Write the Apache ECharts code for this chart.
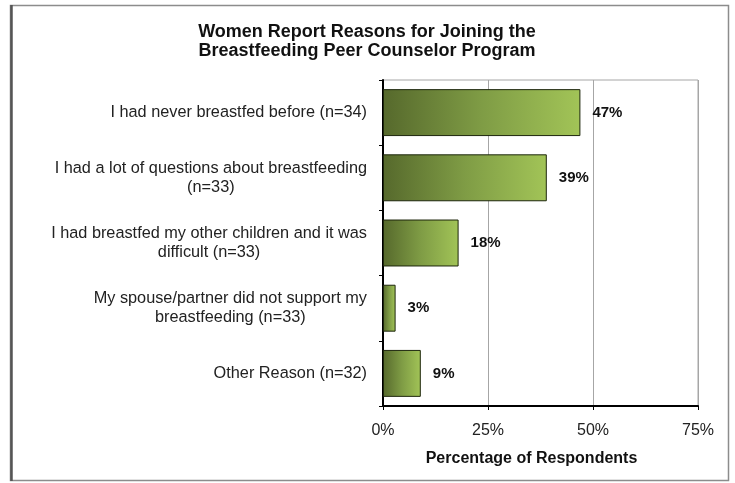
<!DOCTYPE html>
<html>
<head>
<meta charset="utf-8">
<script src="https://cdn.jsdelivr.net/npm/echarts@6/dist/echarts.min.js"></script>
<style>
  html, body { margin: 0; padding: 0; background: #fff; }
  #chart { width: 735px; height: 483px; }
</style>
</head>
<body>
<div id="chart"></div>
<script>
// Reasons given for joining the peer counselor program
const reasons = [
  'I had never breastfed before (n=34)',
  'I had a lot of questions about breastfeeding\n(n=33)',
  'I had breastfed my other children and it was\ndifficult (n=33)',
  'My spouse/partner did not support my\nbreastfeeding (n=33)',
  'Other Reason (n=32)'
];
// Share of respondents (%)
const percentages = [47, 39, 18, 3, 9];
const xTicks = [0, 25, 50, 75];

const FONT = '"Liberation Sans", Arial, sans-serif';

const chart = echarts.init(document.getElementById('chart'), null, { renderer: 'canvas' });

chart.setOption({
  animation: false,
  backgroundColor: '#ffffff',
  title: {
    text: 'Women Report Reasons for Joining the\nBreastfeeding Peer Counselor Program',
    left: 362,
    textAlign: 'center',
    top: 18,
    textStyle: {
      fontFamily: FONT,
      fontSize: 18,
      fontWeight: 'bold',
      color: '#111',
      lineHeight: 19
    }
  },
  graphic: [
    {
      type: 'rect',
      shape: { x: 10.5, y: 5.5, width: 718, height: 475 },
      style: { fill: 'none', stroke: '#8c8c8c', lineWidth: 1.5 },
      silent: true
    },
    {
      type: 'line',
      shape: { x1: 11.5, y1: 5, x2: 11.5, y2: 481 },
      style: { stroke: '#555', lineWidth: 2.5 },
      silent: true
    }
  ],
  grid: {
    left: 383,
    right: 37,
    top: 80,
    bottom: 77,
    show: true,
    borderColor: '#a6a6a6',
    borderWidth: 1
  },
  xAxis: {
    type: 'value',
    min: xTicks[0],
    max: xTicks[xTicks.length - 1],
    interval: 25,
    name: 'Percentage of Respondents',
    nameLocation: 'middle',
    nameGap: 45,
    nameTextStyle: {
      fontFamily: FONT,
      fontSize: 16,
      fontWeight: 'bold',
      color: '#111',
      padding: [0, 18, 0, 0]
    },
    axisLine: { show: true, lineStyle: { color: '#000', width: 2 } },
    axisTick: { show: true, length: 4, lineStyle: { color: '#000', width: 1 } },
    axisLabel: {
      fontFamily: FONT,
      fontSize: 16,
      color: '#222',
      margin: 17,
      formatter: v => v + '%'
    },
    splitLine: { show: true, lineStyle: { color: '#a6a6a6', width: 1 } }
  },
  yAxis: {
    type: 'category',
    data: reasons,
    inverse: true,
    axisLine: { show: true, lineStyle: { color: '#000', width: 2 } },
    axisTick: { show: true, length: 4, alignWithLabel: false, lineStyle: { color: '#000', width: 1 } },
    axisLabel: {
      margin: 16,
      formatter: v => v.split('\n').map(s => '{c|' + s + '}').join('\n'),
      rich: {
        c: {
          fontFamily: FONT,
          fontSize: 16.3,
          color: '#222',
          lineHeight: 19,
          align: 'center'
        }
      }
    }
  },
  series: [
    {
      type: 'bar',
      data: percentages,
      barCategoryGap: '28%',
      itemStyle: {
        color: new echarts.graphic.LinearGradient(0, 0, 1, 0, [
          { offset: 0, color: '#56692c' },
          { offset: 0.5, color: '#7f9c45' },
          { offset: 1, color: '#a2c457' }
        ]),
        borderColor: '#1d260c',
        borderWidth: 1
      },
      label: {
        show: true,
        position: 'right',
        distance: 12,
        fontFamily: FONT,
        fontSize: 15,
        fontWeight: 'bold',
        color: '#111',
        formatter: p => p.value + '%'
      }
    }
  ]
});
</script>
</body>
</html>
